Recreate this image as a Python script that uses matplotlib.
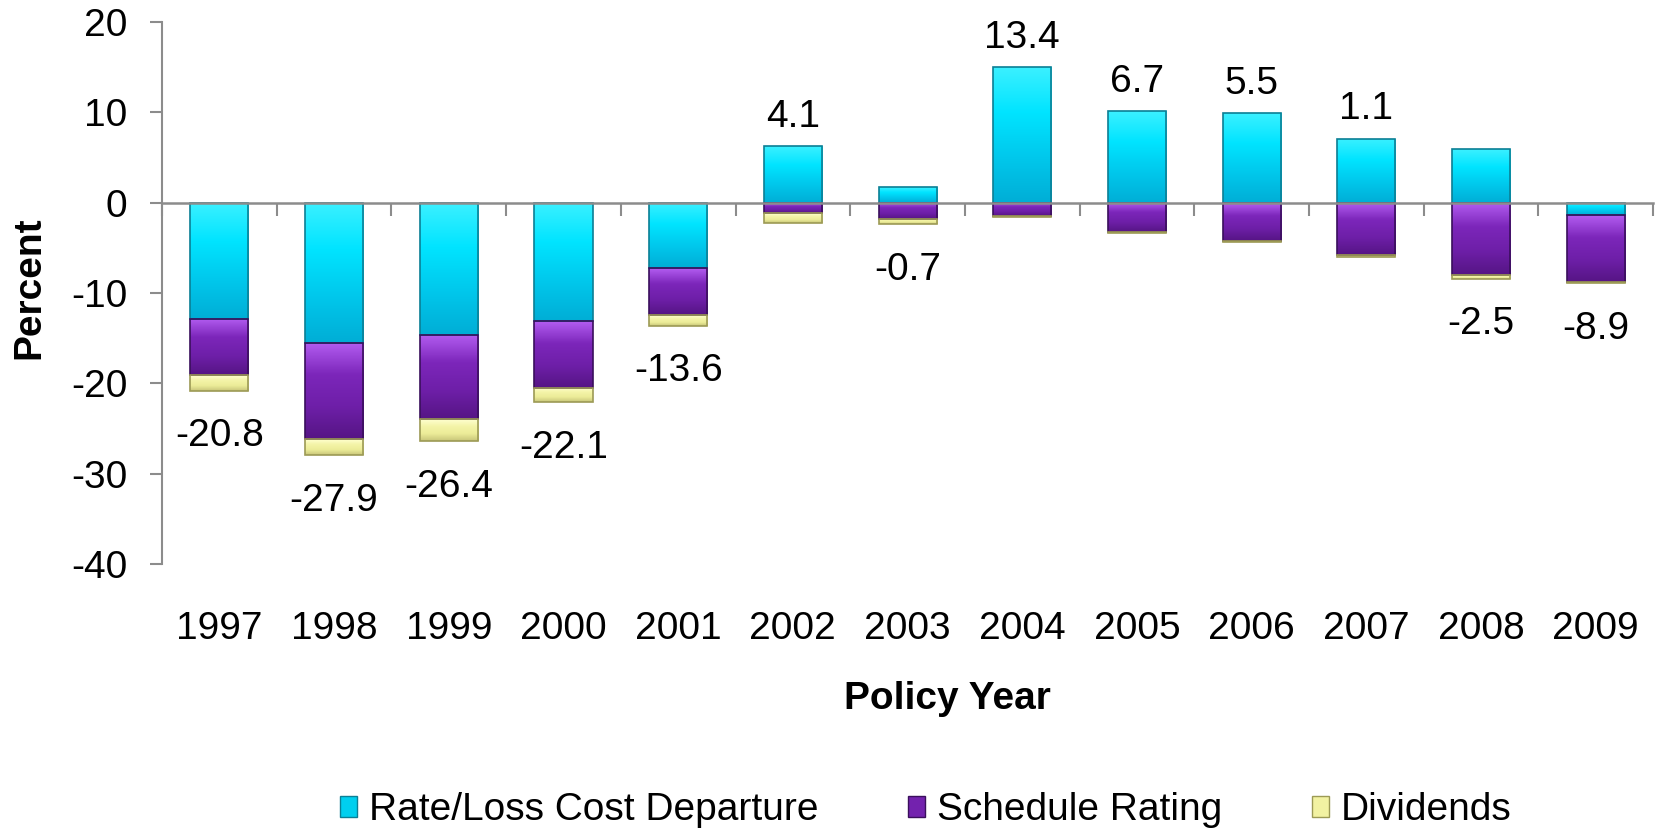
#!/usr/bin/env python3
"""
Premium departures by policy year: stacked bars (rate/loss cost, schedule rating, dividends)
"""

import numpy as np
import matplotlib
matplotlib.use("Agg")
import matplotlib.pyplot as plt
from matplotlib.colors import LinearSegmentedColormap

plt.rcParams['font.family'] = ['Liberation Sans', 'DejaVu Sans']
plt.rcParams['axes.unicode_minus'] = False

# Data
years = ['1997', '1998', '1999', '2000', '2001', '2002', '2003',
         '2004', '2005', '2006', '2007', '2008', '2009']
rate_loss_cost = [-12.9, -15.5, -14.6, -13.1, -7.2, 6.3, 1.7,
                  15.0, 10.1, 9.9, 7.1, 5.9, -1.4]
schedule_rating = [-6.2, -10.7, -9.4, -7.4, -5.2, -1.1, -1.8,
                   -1.5, -3.3, -4.2, -5.8, -8.0, -7.4]
dividends = [-1.7, -1.7, -2.4, -1.6, -1.2, -1.1, -0.6,
             -0.1, -0.1, -0.2, -0.2, -0.4, -0.1]
totals = [-20.8, -27.9, -26.4, -22.1, -13.6, 4.1, -0.7,
          13.4, 6.7, 5.5, 1.1, -2.5, -8.9]

series_names = ['Rate/Loss Cost Departure', 'Schedule Rating', 'Dividends']
series_colors = ['#00CFEF', '#7322AE', '#F2F2A2']
edge_colors = ['#0B7F95', '#3A0F5C', '#9C9A55']
# top -> bottom shading of each bar (a rough take on the bevel look)
gradients = [['#3AF0FF', '#00E4FF', '#00C8EC', '#00AED6'],
             ['#B25CF0', '#7C26BA', '#6E1FA8', '#561585'],
             ['#FFFFD0', '#F4F4A8', '#ECEC98', '#C8C67A']]


def shade_bars(ax, bars, colors):
    """Fill each bar with a vertical gradient clipped to its outline"""
    cmap = LinearSegmentedColormap.from_list('bevel', colors)
    grad = np.linspace(0, 1, 64).reshape(-1, 1)
    for b in bars:
        x0, y0 = b.get_x(), b.get_y()
        w, h = b.get_width(), b.get_height()
        lo, hi = min(y0, y0 + h), max(y0, y0 + h)
        im = ax.imshow(grad, cmap=cmap, aspect='auto', origin='upper',
                       extent=(x0, x0 + w, lo, hi), zorder=3.5,
                       interpolation='bilinear')
        im.set_clip_path(b)
        b.set_facecolor('none')
        b.set_zorder(3.6)


def main():
    fig = plt.figure(figsize=(16.59, 8.32), dpi=100)
    ax = fig.add_axes([0.0977, 0.3221, 0.8987, 0.6515])

    x = np.arange(len(years))
    width = 0.506
    pos_base = np.zeros(len(years))
    neg_base = np.zeros(len(years))

    handles = []
    for vals, name, fc, ec, grad in zip([rate_loss_cost, schedule_rating, dividends],
                                        series_names, series_colors, edge_colors,
                                        gradients):
        vals = np.array(vals)
        base = np.where(vals >= 0, pos_base, neg_base)
        bars = ax.bar(x, vals, width, bottom=base, color=fc, edgecolor=ec,
                      linewidth=1.2, label=name, zorder=3)
        handles.append(plt.Rectangle((0, 0), 1, 1, facecolor=fc, edgecolor=ec,
                                     linewidth=1.0))
        shade_bars(ax, bars, grad)
        pos_base += np.where(vals >= 0, vals, 0)
        neg_base += np.where(vals < 0, vals, 0)

    # total labels: above positive stack or below negative stack
    for i, t in enumerate(totals):
        if t >= 0:
            ax.annotate(f'{t:.1f}', (x[i], pos_base[i]), xytext=(0, 21),
                        textcoords='offset points', ha='center', va='center',
                        fontsize=28)
        else:
            ax.annotate(f'{t:.1f}', (x[i], neg_base[i]), xytext=(0, -33),
                        textcoords='offset points', ha='center', va='center',
                        fontsize=28)

    ax.set_xlim(-0.5, len(years) - 0.5)
    ax.set_ylim(-40, 20)
    ax.set_yticks(np.arange(-40, 21, 10))

    # axis line through zero with boundary ticks
    for side in ['top', 'right']:
        ax.spines[side].set_visible(False)
    ax.spines['bottom'].set_position(('data', 0))
    ax.spines['bottom'].set_color('#8C8C8C')
    ax.spines['bottom'].set_linewidth(1.8)
    ax.spines['bottom'].set_zorder(4)
    ax.spines['left'].set_color('#8C8C8C')
    ax.spines['left'].set_linewidth(1.5)

    ax.set_xticks(np.arange(len(years) + 1) - 0.5)
    ax.set_xticklabels([])
    ax.tick_params(axis='x', direction='out', length=9, width=1.5,
                   color='#8C8C8C')
    ax.tick_params(axis='y', direction='out', length=9, width=1.5,
                   color='#8C8C8C', labelsize=28, pad=16)

    # year labels at the bottom of the plot area
    sec = ax.secondary_xaxis('bottom')
    sec.set_xticks(x)
    sec.set_xticklabels(years, fontsize=28)
    sec.tick_params(length=0, pad=34)
    sec.spines['bottom'].set_visible(False)

    ax.set_ylabel('Percent', fontsize=28, fontweight='bold')
    ax.yaxis.set_label_coords(-0.077, 0.509)
    fig.text(0.571, 1 - 699 / 832, 'Policy Year', fontsize=28,
             fontweight='bold', ha='center', va='center')

    fig.legend(handles=handles, labels=series_names, loc='center',
               bbox_to_anchor=(0.558, 0.026), ncol=3, frameon=False,
               fontsize=28, handlelength=0.45, handleheight=0.45,
               handletextpad=0.3, columnspacing=2.3)

    fig.savefig('out.png', dpi=100, facecolor='white')
    plt.close(fig)


if __name__ == "__main__":
    main()
